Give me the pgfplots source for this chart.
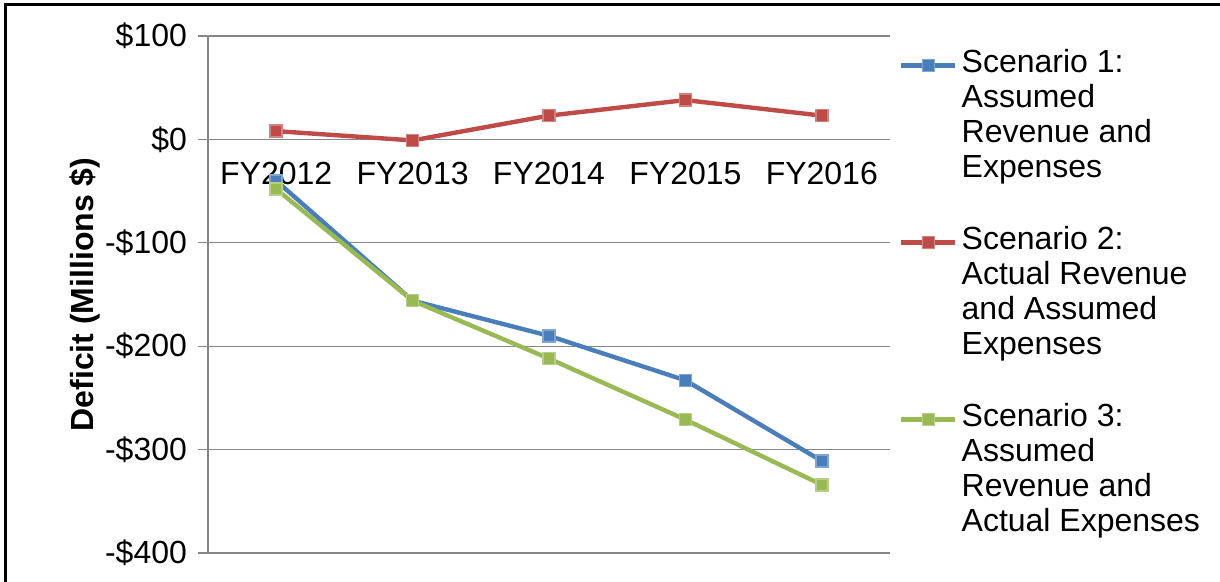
\documentclass[border=0pt]{standalone}
\usepackage{pgfplots}
\pgfplotsset{compat=1.18}
\usepackage{fontspec}
\setmainfont{Liberation Sans}

\definecolor{sOne}{RGB}{74,126,187}
\definecolor{sTwo}{RGB}{190,75,72}
\definecolor{sThree}{RGB}{152,185,84}
\definecolor{gridgray}{RGB}{134,134,134}

\begin{document}
\fontsize{16}{17.5}\selectfont
\begin{tikzpicture}
\useasboundingbox (-104pt,-14.5pt) rectangle (506pt,276.5pt);
\begin{axis}[
    scale only axis,
    width=341pt, height=258.5pt,
    xmin=-0.5, xmax=4.5,
    ymin=-400, ymax=100,
    axis x line=middle,
    axis y line=left,
    axis line style={-, gridgray, line width=0.6pt},
    xtick={0,1,2,3,4},
    xticklabels={FY2012,FY2013,FY2014,FY2015,FY2016},
    x tick style={draw=none},
    xticklabel style={anchor=north, yshift=-1pt},
    extra x ticks={-0.5,0.5,1.5,2.5,3.5,4.5},
    extra x tick labels={},
    extra x tick style={grid=none, tick style={draw=gridgray, line width=0.6pt}, tick align=outside, major tick length=5pt},
    ytick={-400,-300,-200,-100,0,100},
    yticklabels={-\$400,-\$300,-\$200,-\$100,\$0,\$100},
    y tick style={draw=gridgray, line width=0.6pt},
    tick align=outside,
    major tick length=5pt,
    ymajorgrids,
    grid style={gridgray, line width=0.6pt},
    ylabel={\bfseries Deficit (Millions \$)},
    ylabel style={at={(axis description cs:-0.18,0.5)}, anchor=center},
    legend style={draw=none, fill=none, inner sep=0pt, at={(axis description cs:1.013,0.984)}, anchor=north west,
        row sep=17.8pt, column sep=0pt,
        cells={anchor=north west, align=left, inner xsep=2pt},
        font=\fontsize{16}{17.5}\selectfont},
    legend image code/.code={\draw[mark repeat=2, mark phase=2] plot coordinates {(0pt,-10.5pt) (13.5pt,-10.5pt) (27pt,-10.5pt)};},
    every axis plot/.append style={line width=2.2pt, mark=square*, mark size=3pt},
]
\addplot[color=sOne, mark options={fill=sOne, draw=sOne!70!white, line width=0.8pt}] coordinates {
(0,-40) (1,-156) (2,-190) (3,-233) (4,-311)};
\addlegendentry{Scenario 1:\\Assumed\\Revenue and\\Expenses}
\addplot[color=sTwo, mark options={fill=sTwo, draw=sTwo!70!white, line width=0.8pt}] coordinates {
(0,8) (1,-1) (2,23) (3,38) (4,23)};
\addlegendentry{Scenario 2:\\Actual Revenue\\and Assumed\\Expenses}
\addplot[color=sThree, mark options={fill=sThree, draw=sThree!70!white, line width=0.8pt}] coordinates {
(0,-48) (1,-156) (2,-212) (3,-271) (4,-334)};
\addlegendentry{Scenario 3:\\Assumed\\Revenue and\\Actual Expenses}
\end{axis}
\draw[black, line width=1.5pt] (-101pt,-14.5pt) -- (-101pt,274pt) -- (506pt,274pt);
\end{tikzpicture}
\end{document}
